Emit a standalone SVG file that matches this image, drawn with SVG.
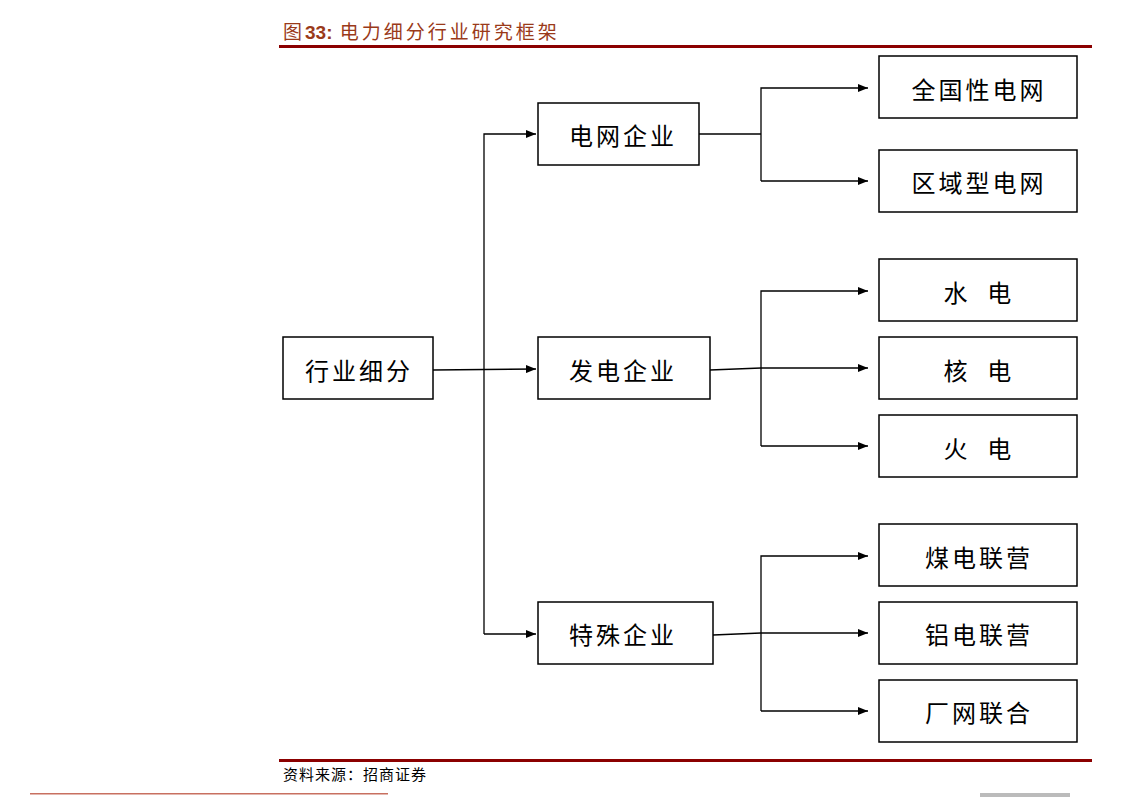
<svg xmlns="http://www.w3.org/2000/svg" width="1122" height="799" viewBox="0 0 1122 799">
<defs>
<marker id="ah" markerWidth="10" markerHeight="8" refX="10" refY="4" orient="auto" markerUnits="userSpaceOnUse"><path d="M0,0 L10,4 L0,8 Z" fill="#000"/></marker>
<style>
.box{fill:#fff;stroke:#000;stroke-width:1.5}
.t{font-family:"Noto Sans CJK SC","Liberation Serif",serif;font-size:24px;text-anchor:middle;dominant-baseline:central;fill:#000;letter-spacing:3px}
.c{fill:none;stroke:#000;stroke-width:1.3}
</style>
</defs>
<rect width="1122" height="799" fill="#fff"/>
<text x="283" y="39" font-family="Noto Sans CJK SC,Liberation Sans,sans-serif" font-size="19" fill="#9a3a1a" letter-spacing="3">图<tspan font-weight="bold" font-family="Liberation Sans,sans-serif" letter-spacing="0">33:</tspan> 电力细分行业研究框架</text>
<rect x="279" y="45" width="813" height="3" fill="#8b0000"/>
<g id="connectors">
<path class="c" d="M433,370 L536,369" marker-end="url(#ah)"/>
<path class="c" d="M484,634 L484,134 L536,134" marker-end="url(#ah)"/>
<path class="c" d="M484,634 L536,634" marker-end="url(#ah)"/>
<path class="c" d="M699,134 L761,134"/>
<path class="c" d="M761,181 L761,88 L868,88" marker-end="url(#ah)"/>
<path class="c" d="M761,181 L868,181" marker-end="url(#ah)"/>
<path class="c" d="M710,370 L761,368"/>
<path class="c" d="M761,446 L761,291 L868,291" marker-end="url(#ah)"/>
<path class="c" d="M761,368 L868,368" marker-end="url(#ah)"/>
<path class="c" d="M761,446 L868,446" marker-end="url(#ah)"/>
<path class="c" d="M713,635 L761,633"/>
<path class="c" d="M761,711 L761,556 L868,556" marker-end="url(#ah)"/>
<path class="c" d="M761,633 L868,633" marker-end="url(#ah)"/>
<path class="c" d="M761,711 L868,711" marker-end="url(#ah)"/>
</g>
<g id="root"><rect class="box" x="283" y="337" width="150" height="62"/><text class="t" x="359" y="369" font-size="28" letter-spacing="1">行业细分</text></g>
<g id="grid"><rect class="box" x="538" y="103" width="161" height="62"/><text class="t" x="623" y="134">电网企业</text></g>
<g id="gen"><rect class="box" x="538" y="337" width="172" height="62"/><text class="t" x="623" y="369">发电企业</text></g>
<g id="special"><rect class="box" x="538" y="602" width="175" height="62"/><text class="t" x="623" y="633">特殊企业</text></g>
<g id="n1"><rect class="box" x="879" y="56" width="198" height="62"/><text class="t" x="979" y="88">全国性电网</text></g>
<g id="n2"><rect class="box" x="879" y="150" width="198" height="62"/><text class="t" x="979" y="181">区域型电网</text></g>
<g id="n3"><rect class="box" x="879" y="259" width="198" height="62"/><text class="t" x="979" y="291" xml:space="preserve">水  电</text></g>
<g id="n4"><rect class="box" x="879" y="337" width="198" height="62"/><text class="t" x="979" y="369" xml:space="preserve">核  电</text></g>
<g id="n5"><rect class="box" x="879" y="415" width="198" height="62"/><text class="t" x="979" y="447" xml:space="preserve">火  电</text></g>
<g id="n6"><rect class="box" x="879" y="524" width="198" height="62"/><text class="t" x="979" y="556">煤电联营</text></g>
<g id="n7"><rect class="box" x="879" y="602" width="198" height="62"/><text class="t" x="979" y="633">铝电联营</text></g>
<g id="n8"><rect class="box" x="879" y="680" width="198" height="62"/><text class="t" x="979" y="711">厂网联合</text></g>
<rect x="279" y="759" width="813" height="3" fill="#8b0000"/>
<text x="283" y="780" font-family="Noto Sans CJK SC,Liberation Serif,serif" font-size="15" fill="#000" letter-spacing="1">资料来源：招商证券</text>
<rect x="30" y="793" width="358" height="1.5" fill="#c87060"/>
<rect x="980" y="793" width="90" height="4" fill="#bbb"/>
</svg>
